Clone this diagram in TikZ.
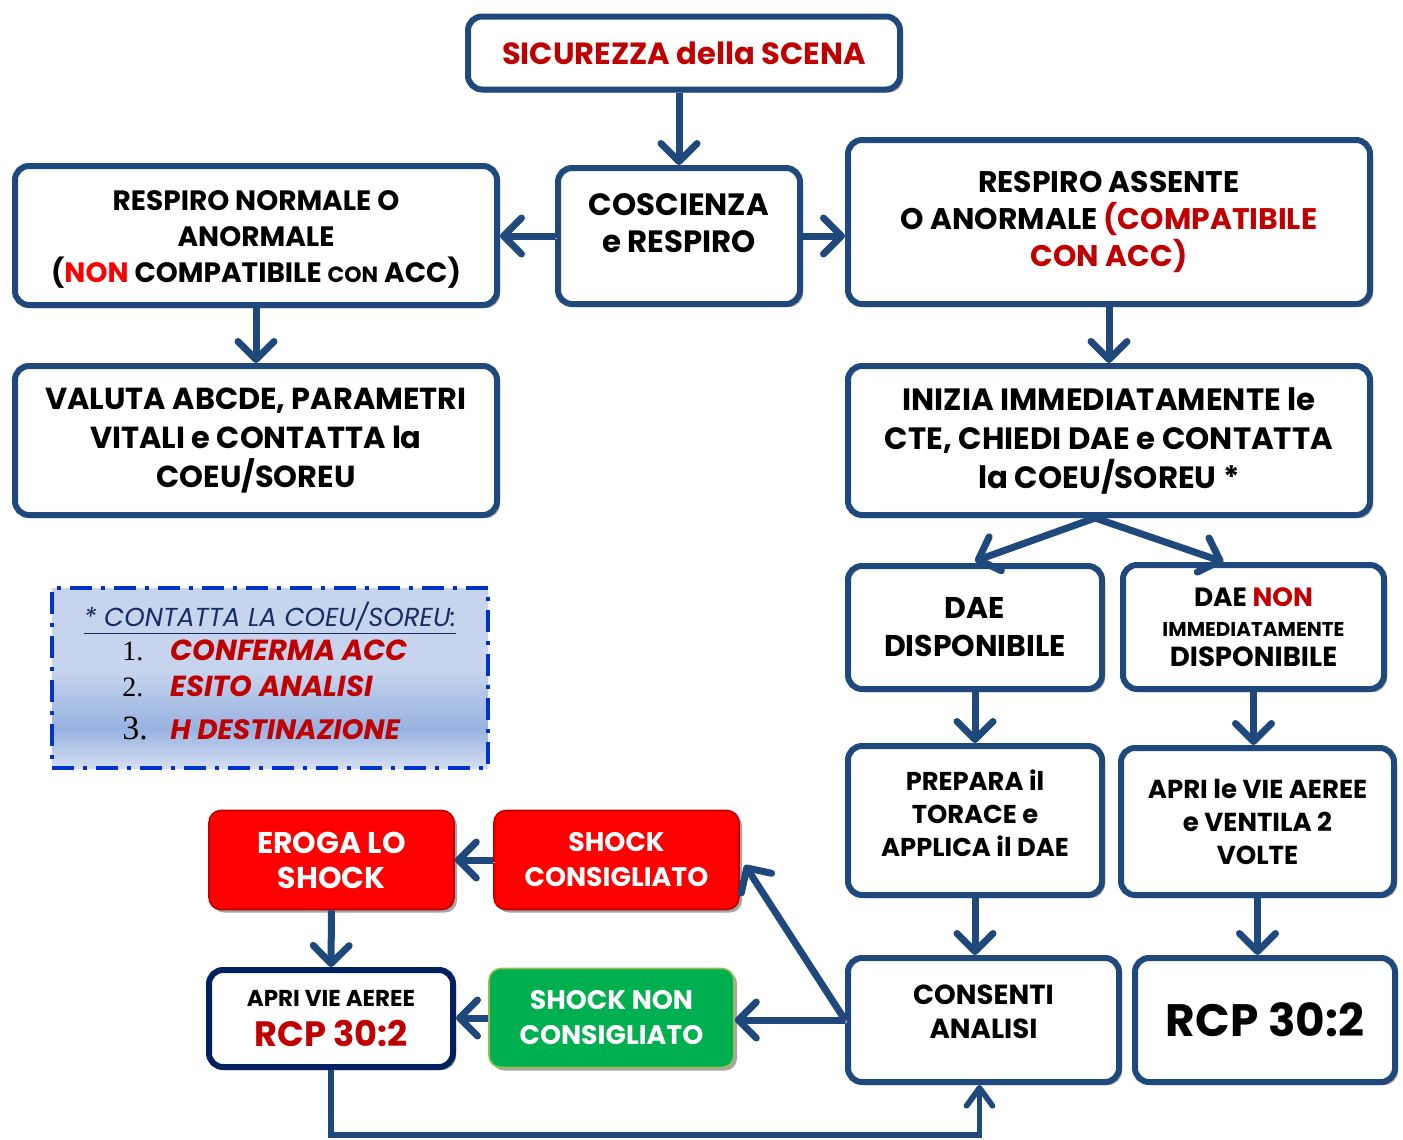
\documentclass[tikz,border=0pt]{standalone}
\usepackage{fontspec}
\setmainfont{Poppins}
\newfontfamily\serifnum{Liberation Serif}
\usetikzlibrary{arrows.meta,calc,shadows}
\definecolor{bblue}{RGB}{31,73,125}
\definecolor{dred}{RGB}{192,0,0}
\definecolor{bred}{RGB}{255,0,0}
\definecolor{navy}{RGB}{0,32,96}
\definecolor{sgreen}{RGB}{0,176,80}
\definecolor{olive}{RGB}{155,187,89}
\definecolor{legtop}{RGB}{198,212,238}
\definecolor{legmid}{RGB}{152,178,224}
\definecolor{legbot}{RGB}{212,222,242}
\definecolor{legdash}{RGB}{0,51,204}
\definecolor{leghd}{RGB}{23,45,100}
\pgfdeclareverticalshading{legshade}{100bp}{color(0bp)=(legbot); color(25bp)=(legbot); color(36bp)=(legmid); color(52bp)=(legtop); color(100bp)=(legtop)}
\tikzset{
  x=0.5pt, y=-0.5pt,
  box/.style={draw=bblue, line width=3pt, rounded corners=7pt, fill=white, align=center,
    font=\bfseries, inner sep=0pt,
    drop shadow={shadow xshift=1.5pt, shadow yshift=-1.5pt, fill=black!35, opacity=1}},
  flat/.style={draw=#1, line width=0.8pt, rounded corners=6pt, align=center, text=white,
    font=\bfseries, inner sep=0pt,
    drop shadow={shadow xshift=1.5pt, shadow yshift=-1.5pt, fill=black!35, opacity=1}},
  conn/.style={draw=bblue, line width=3.5pt,
    -{Straight Barb[length=9pt, width=18pt, line cap=round, round]},
    preaction={draw=black!30, transform canvas={xshift=1pt, yshift=-1pt}}},
  txt/.style={inner sep=0pt, align=left},
  btxt/.style={inner sep=0pt, align=center},
}
\begin{document}
\begin{tikzpicture}
\useasboundingbox (0,0) rectangle (1403,1140);
% boxes
\node[box, minimum width=216pt, minimum height=36.5pt, font=\bfseries\fontsize{15.3}{18}\selectfont, text=dred] (sic) at (684,53) {SICUREZZA della SCENA};
\node[box, minimum width=121pt, minimum height=68pt] (cos) at (679,236) {};
\node[btxt, font=\bfseries\fontsize{15.4}{18.5}\selectfont] (cost) at ($(cos.center)+(0,-13)$) {COSCIENZA\\e RESPIRO};
\node[box, minimum width=241pt, minimum height=69.5pt] (rn) at (256,235.5) {};
\node[btxt, font=\bfseries\fontsize{14}{18}\selectfont] (rnt) at ($(rn.center)+(0,4)$) {RESPIRO NORMALE O\\ANORMALE\\({\color{bred}NON} COMPATIBILE {\fontsize{11}{11}\selectfont CON} ACC)};
\node[box, minimum width=261pt, minimum height=82pt, font=\bfseries\fontsize{14.9}{18.5}\selectfont] (ra) at (1109,222) {RESPIRO ASSENTE\\O ANORMALE {\color{dred}(COMPATIBILE}\\{\color{dred}CON ACC)}};
\node[box, minimum width=241pt, minimum height=74.5pt, font=\bfseries\fontsize{15.2}{19.5}\selectfont] (val) at (256,440.5) {VALUTA ABCDE, PARAMETRI\\VITALI e CONTATTA la\\COEU/SOREU};
\node[box, minimum width=261pt, minimum height=74.5pt, font=\bfseries\fontsize{15.4}{19.5}\selectfont] (ini) at (1109,440.5) {INIZIA IMMEDIATAMENTE le\\CTE, CHIEDI DAE e CONTATTA\\la COEU/SOREU *};
\node[box, minimum width=127pt, minimum height=61.5pt, font=\bfseries\fontsize{15}{19}\selectfont] (dae) at (975,627.5) {DAE\\DISPONIBILE};
\node[box, minimum width=130.5pt, minimum height=62pt, font=\bfseries\fontsize{13.2}{15}\selectfont] (daen) at (1253.5,627) {DAE {\color{dred}NON}\\{\fontsize{10}{12}\selectfont IMMEDIATAMENTE}\\{\fontsize{13.8}{16}\selectfont DISPONIBILE}};
\node[box, minimum width=127pt, minimum height=74.5pt] (prep) at (975,820.5) {};
\node[btxt, font=\bfseries\fontsize{12.9}{16.5}\selectfont] (prept) at ($(prep.center)+(0,-7)$) {PREPARA il\\TORACE e\\APPLICA il DAE};
\node[box, minimum width=136.5pt, minimum height=73.5pt, font=\bfseries\fontsize{13}{16.5}\selectfont] (apri) at (1257.5,821.5) {APRI le VIE AEREE\\e VENTILA 2\\VOLTE};
\node[box, minimum width=135.5pt, minimum height=62pt] (cons) at (983.5,1020) {};
\node[btxt, font=\bfseries\fontsize{13.8}{17}\selectfont] (const) at ($(cons.center)+(0,-8)$) {CONSENTI\\ANALISI};
\node[box, minimum width=130pt, minimum height=62pt, font=\bfseries\fontsize{22.7}{26}\selectfont] (rcp) at (1265,1020) {RCP 30:2};
\node[flat=red!75!black, fill=bred, minimum width=122.5pt, minimum height=49.5pt, font=\bfseries\fontsize{15}{17.5}\selectfont] (ero) at (331.5,860) {EROGA LO\\SHOCK};
\node[flat=red!75!black, fill=bred, minimum width=122.5pt, minimum height=49.5pt, font=\bfseries\fontsize{13.4}{17.5}\selectfont] (shc) at (616.5,860) {SHOCK\\CONSIGLIATO};
\node[flat=olive, fill=sgreen, minimum width=122.5pt, minimum height=49.5pt, font=\bfseries\fontsize{13.4}{17.5}\selectfont] (shn) at (611.5,1018) {SHOCK NON\\CONSIGLIATO};
\node[box, draw=navy, minimum width=122pt, minimum height=48.5pt, font=\bfseries\fontsize{11.5}{14}\selectfont, drop shadow={fill=none}] (apv) at (331,1018.5) {APRI VIE AEREE\\[6pt]{\color{dred}\fontsize{17.6}{18}\selectfont RCP 30:2}};
% legend
\node[shading=legshade, draw=legdash, line width=2.2pt, dash pattern=on 11pt off 4.5pt on 2pt off 4.5pt, minimum width=218pt, minimum height=90pt, inner sep=0pt] (leg) at (270,678) {};
\node[txt, anchor=base, font=\itshape\fontsize{13}{13}\selectfont, text=leghd] (leghead) at (270,626) {\underline{* CONTATTA LA COEU/SOREU:}};
\node[txt, anchor=base west, font=\serifnum\fontsize{14}{14}\selectfont] (n1) at (122,660) {1.};
\node[txt, anchor=base west, font=\serifnum\fontsize{14}{14}\selectfont] (n2) at (122,696) {2.};
\node[txt, anchor=base west, font=\serifnum\fontsize{17}{17}\selectfont] (n3) at (122,739) {3.};
\node[txt, anchor=base west, font=\bfseries\itshape\fontsize{14.5}{14.5}\selectfont, text=dred] (i1) at (170,660) {CONFERMA ACC};
\node[txt, anchor=base west, font=\bfseries\itshape\fontsize{14.5}{14.5}\selectfont, text=dred] (i2) at (170,696) {ESITO ANALISI};
\node[txt, anchor=base west, font=\bfseries\itshape\fontsize{14}{14}\selectfont, text=dred] (i3) at (170,739) {H DESTINAZIONE};
% connectors
\draw[conn] (cos.north |- sic.south) -- (cos.north);
\draw[conn] (cos.west) -- (cos.west -| rn.east);
\draw[conn] (cos.east) -- (cos.east -| ra.west);
\draw[conn] (rn.south) -- (val.north);
\draw[conn] (ra.south) -- (ini.north);
\draw[conn] ($(ini.south)+(-14,0)$) -- ($(dae.north)+(0,-2)$);
\draw[conn] ($(ini.south)+(-14,0)$) -- ($(daen.north)+(-30,0)$);
\draw[conn] (dae.south) -- (prep.north);
\draw[conn] (daen.south) -- (daen.south |- apri.north);
\draw[conn] (prep.south) -- (prep.south |- cons.north);
\draw[conn] (apri.south) -- (apri.south |- rcp.north);
\draw[conn] (cons.west) -- (cons.west -| shn.east);
\draw[conn] (cons.west) -- ($(shc.east)+(5,5)$);
\draw[conn] (shc.west) -- (shc.west -| ero.east);
\draw[conn] (ero.south) -- (apv.north);
\draw[conn] (shn.west) -- (shn.west -| apv.east);
\draw[conn, line width=2.8pt, -{Straight Barb[length=9pt, width=13pt, line cap=round, round]}] (apv.south) |- ($(cons.south)+(-4,50)$) -- ($(cons.south)+(-4,0)$);
\end{tikzpicture}
\end{document}
